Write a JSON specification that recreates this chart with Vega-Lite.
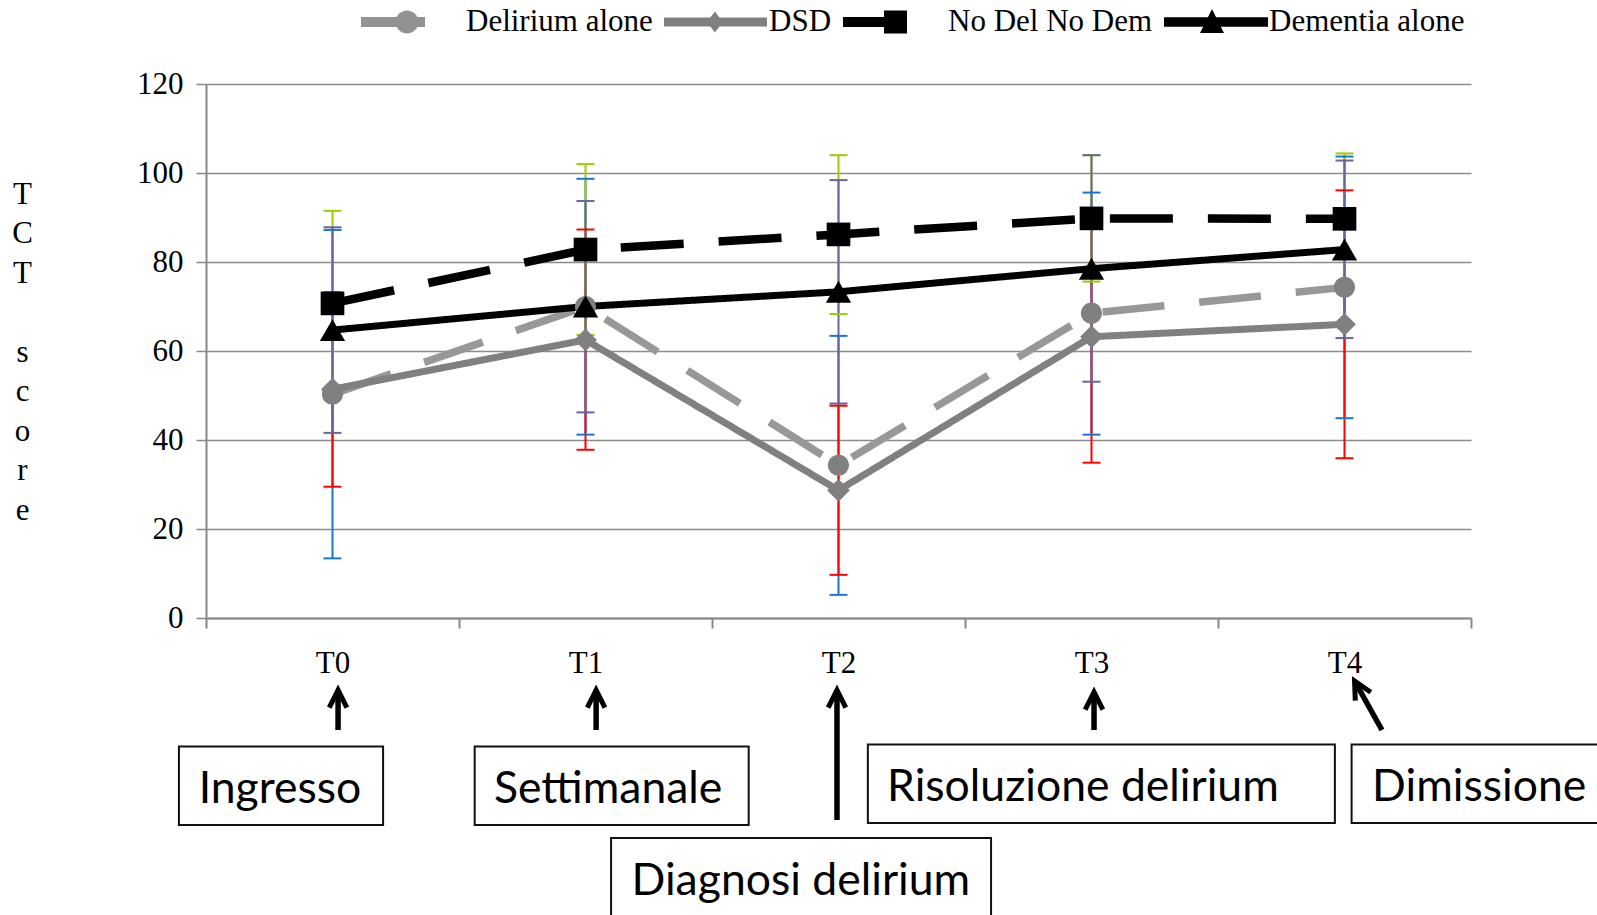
{
  "$schema": "https://vega.github.io/schema/vega-lite/v6.json",
  "width": 1265,
  "height": 534,
  "autosize": {"type": "none"},
  "padding": {"left": 206, "top": 84, "right": 126, "bottom": 297},
  "background": "white",
  "config": {"view": {"stroke": null}, "font": "Liberation Serif"},
  "datasets": {
    "tct": [
      {"series": "Delirium alone", "time": "T0", "t": 0, "mean": 50.3, "lo": 13.4, "hi": 87.2},
      {"series": "Delirium alone", "time": "T1", "t": 1, "mean": 70.0, "lo": 41.2, "hi": 98.7},
      {"series": "Delirium alone", "time": "T2", "t": 2, "mean": 34.3, "lo": 5.2, "hi": 63.4},
      {"series": "Delirium alone", "time": "T3", "t": 3, "mean": 68.5, "lo": 41.2, "hi": 95.6},
      {"series": "Delirium alone", "time": "T4", "t": 4, "mean": 74.3, "lo": 44.9, "hi": 103.7},
      {"series": "DSD", "time": "T0", "t": 0, "mean": 51.4, "lo": 29.5, "hi": 73.2},
      {"series": "DSD", "time": "T1", "t": 1, "mean": 62.5, "lo": 37.8, "hi": 87.3},
      {"series": "DSD", "time": "T2", "t": 2, "mean": 28.7, "lo": 9.7, "hi": 47.7},
      {"series": "DSD", "time": "T3", "t": 3, "mean": 63.2, "lo": 34.9, "hi": 91.5},
      {"series": "DSD", "time": "T4", "t": 4, "mean": 66.0, "lo": 35.9, "hi": 96.1},
      {"series": "No Del No Dem", "time": "T0", "t": 0, "mean": 70.7, "lo": 49.9, "hi": 91.5},
      {"series": "No Del No Dem", "time": "T1", "t": 1, "mean": 82.8, "lo": 63.6, "hi": 102.0},
      {"series": "No Del No Dem", "time": "T2", "t": 2, "mean": 86.2, "lo": 68.3, "hi": 104.0},
      {"series": "No Del No Dem", "time": "T3", "t": 3, "mean": 89.8, "lo": 75.6, "hi": 104.0},
      {"series": "No Del No Dem", "time": "T4", "t": 4, "mean": 89.7, "lo": 75.0, "hi": 104.4},
      {"series": "Dementia alone", "time": "T0", "t": 0, "mean": 64.7, "lo": 41.6, "hi": 87.8},
      {"series": "Dementia alone", "time": "T1", "t": 1, "mean": 70.0, "lo": 46.2, "hi": 93.7},
      {"series": "Dementia alone", "time": "T2", "t": 2, "mean": 73.3, "lo": 48.2, "hi": 98.4},
      {"series": "Dementia alone", "time": "T3", "t": 3, "mean": 78.5, "lo": 53.1, "hi": 104.0},
      {"series": "Dementia alone", "time": "T4", "t": 4, "mean": 82.8, "lo": 62.9, "hi": 102.8}
    ],
    "boxes": [
      {"label": "Ingresso", "x0": -0.607, "x1": 0.2, "y0": -28.88, "y1": -46.52, "tx": -0.529, "ty": -38.6},
      {"label": "Settimanale", "x0": 0.562, "x1": 1.645, "y0": -28.88, "y1": -46.52, "tx": 0.638, "ty": -38.6},
      {"label": "Diagnosi delirium", "x0": 1.101, "x1": 2.603, "y0": -49.44, "y1": -72.0, "tx": 1.182, "ty": -59.3},
      {"label": "Risoluzione delirium", "x0": 2.116, "x1": 3.962, "y0": -28.43, "y1": -46.07, "tx": 2.192, "ty": -38.1},
      {"label": "Dimissione", "x0": 4.028, "x1": 5.1, "y0": -28.43, "y1": -46.07, "tx": 4.109, "ty": -38.1}
    ],
    "arrows": [
      {"to": "T0", "x0": 0.022, "y0": -25.17, "x1": 0.022, "y1": -16.18},
      {"to": "T1", "x0": 1.042, "y0": -25.17, "x1": 1.042, "y1": -16.18},
      {"to": "T2", "x0": 1.994, "y0": -45.39, "x1": 1.994, "y1": -16.18},
      {"to": "T3", "x0": 3.01, "y0": -25.17, "x1": 3.01, "y1": -16.63},
      {"to": "T4", "x0": 4.148, "y0": -25.17, "x1": 4.04, "y1": -14.16}
    ],
    "heads": [
      {"to": "T0", "x": 0.022, "y": -18.16},
      {"to": "T1", "x": 1.042, "y": -18.16},
      {"to": "T2", "x": 1.994, "y": -18.16},
      {"to": "T3", "x": 3.01, "y": -18.61}
    ],
    "slantHead": [
      {"to": "T4", "x": 4.0565, "y": -15.89}
    ]
  },
  "layer": [
    {
      "data": {"name": "tct"},
      "mark": {"type": "rule", "strokeWidth": 2},
      "encoding": {
        "x": {
          "field": "t",
          "type": "quantitative",
          "scale": {"domain": [-0.5, 4.5], "nice": false, "zero": false},
          "axis": {
            "values": [-0.5, 0.5, 1.5, 2.5, 3.5, 4.5],
            "labelExpr": "datum.value < 4 ? 'T' + (datum.value + 0.5) : ''",
            "labelOffset": 126.5,
            "labelFlush": false,
            "labelOverlap": false,
            "labelBound": false,
            "labelFont": "Liberation Serif",
            "labelFontSize": 31,
            "labelColor": "black",
            "labelPadding": 20,
            "tickSize": 10,
            "tickColor": "#878787",
            "tickWidth": 2,
            "domainColor": "#878787",
            "domainWidth": 2,
            "grid": false,
            "title": null
          }
        },
        "y": {
          "field": "lo",
          "type": "quantitative",
          "scale": {"domain": [0, 120], "nice": false},
          "axis": {
            "values": [0, 20, 40, 60, 80, 100, 120],
            "grid": true,
            "gridColor": "#8c8c8c",
            "gridWidth": 1.5,
            "domainColor": "#878787",
            "domainWidth": 2,
            "tickColor": "#878787",
            "tickWidth": 1.5,
            "tickSize": 10,
            "labelFont": "Liberation Serif",
            "labelFontSize": 31,
            "labelColor": "black",
            "labelPadding": 13,
            "title": ["T", "C", "T", "\u200b", "s", "c", "o", "r", "e"],
            "titleFont": "Liberation Serif",
            "titleFontSize": 31,
            "titleFontWeight": "normal",
            "titleColor": "black",
            "titleAngle": 0,
            "titleAlign": "center",
            "titleBaseline": "middle",
            "titleLineHeight": 39.5,
            "titleX": -184,
            "titleY": 110
          }
        },
        "y2": {"field": "hi"},
        "color": {
          "field": "series",
          "type": "nominal",
          "scale": {
            "domain": ["Delirium alone", "DSD", "No Del No Dem", "Dementia alone"],
            "range": ["#1c74d4", "#ff0000", "#9acd00", "#66669a"]
          },
          "legend": null
        }
      }
    },
    {
      "data": {"name": "tct"},
      "mark": {"type": "tick", "orient": "horizontal", "size": 18, "thickness": 2, "opacity": 1},
      "encoding": {
        "x": {"field": "t", "type": "quantitative", "axis": null},
        "y": {"field": "lo", "type": "quantitative", "axis": null},
        "color": {
          "field": "series",
          "type": "nominal",
          "scale": {
            "domain": ["Delirium alone", "DSD", "No Del No Dem", "Dementia alone"],
            "range": ["#1c74d4", "#ff0000", "#9acd00", "#66669a"]
          },
          "legend": null
        }
      }
    },
    {
      "data": {"name": "tct"},
      "mark": {"type": "tick", "orient": "horizontal", "size": 18, "thickness": 2, "opacity": 1},
      "encoding": {
        "x": {"field": "t", "type": "quantitative", "axis": null},
        "y": {"field": "hi", "type": "quantitative", "axis": null},
        "color": {
          "field": "series",
          "type": "nominal",
          "scale": {
            "domain": ["Delirium alone", "DSD", "No Del No Dem", "Dementia alone"],
            "range": ["#1c74d4", "#ff0000", "#9acd00", "#66669a"]
          },
          "legend": null
        }
      }
    },
    {
      "data": {"name": "tct"},
      "mark": {"type": "line", "strokeCap": "butt", "strokeJoin": "miter"},
      "encoding": {
        "x": {"field": "t", "type": "quantitative", "axis": null},
        "y": {"field": "mean", "type": "quantitative", "axis": null},
        "stroke": {
          "field": "series",
          "type": "nominal",
          "scale": {
            "domain": ["Delirium alone", "DSD", "No Del No Dem", "Dementia alone"],
            "range": ["#989898", "#808080", "#000000", "#000000"]
          },
          "legend": null
        },
        "strokeDash": {
          "field": "series",
          "type": "nominal",
          "scale": {
            "domain": ["Delirium alone", "DSD", "No Del No Dem", "Dementia alone"],
            "range": [[62, 35], [1, 0], [63, 35], [1, 0]]
          },
          "legend": null
        },
        "strokeWidth": {
          "field": "series",
          "type": "nominal",
          "scale": {
            "type": "ordinal",
            "domain": ["Delirium alone", "DSD", "No Del No Dem", "Dementia alone"],
            "range": [7.5, 7, 8.5, 7]
          },
          "legend": null
        }
      }
    },
    {
      "data": {"name": "tct"},
      "mark": {"type": "point", "filled": true, "opacity": 1, "strokeWidth": 0},
      "encoding": {
        "x": {"field": "t", "type": "quantitative", "axis": null},
        "y": {"field": "mean", "type": "quantitative", "axis": null},
        "shape": {
          "field": "series",
          "type": "nominal",
          "scale": {
            "domain": ["Delirium alone", "DSD", "No Del No Dem", "Dementia alone"],
            "range": ["circle", "diamond", "square", "triangle-up"]
          },
          "legend": null
        },
        "fill": {
          "field": "series",
          "type": "nominal",
          "scale": {
            "domain": ["Delirium alone", "DSD", "No Del No Dem", "Dementia alone"],
            "range": ["#808080", "#808080", "#000000", "#000000"]
          },
          "legend": null
        },
        "size": {
          "field": "series",
          "type": "nominal",
          "scale": {
            "type": "ordinal",
            "domain": ["Delirium alone", "DSD", "No Del No Dem", "Dementia alone"],
            "range": [450, 520, 560, 640]
          },
          "legend": null
        }
      }
    },
    {
      "data": {"name": "tct"},
      "mark": {"type": "point", "filled": true, "opacity": 0},
      "encoding": {
        "x": {"field": "t", "type": "quantitative", "axis": null},
        "y": {"field": "mean", "type": "quantitative", "axis": null},
        "color": {
          "field": "series",
          "type": "nominal",
          "scale": {
            "domain": ["Delirium alone", "DSD", "No Del No Dem", "Dementia alone"],
            "range": ["#929292", "#808080", "#000000", "#000000"]
          },
          "legend": {
            "title": null,
            "orient": "none",
            "legendX": 155,
            "legendY": -114,
            "direction": "horizontal",
            "padding": 0,
            "symbolSize": 10816,
            "symbolStrokeWidth": 0,
            "symbolOffset": 0,
            "symbolOpacity": 1,
            "labelFont": "Liberation Serif",
            "labelFontSize": 31,
            "labelColor": "black",
            "labelOffset": 1,
            "labelLimit": 0,
            "columnPadding": 11
          }
        },
        "shape": {
          "field": "series",
          "type": "nominal",
          "scale": {
            "domain": ["Delirium alone", "DSD", "No Del No Dem", "Dementia alone"],
            "range": [
              "M-1,-0.096H0.231V0.096H-1Z M-0.335,0A0.22,0.22 0 1,1 0.105,0A0.22,0.22 0 1,1 -0.335,0Z",
              "M-1,-0.087H0.98V0.087H-1Z M-0.021,-0.2L0.133,0L-0.021,0.2L-0.175,0Z",
              "M-1,-0.096H0.1V0.096H-1Z M-0.211,-0.221H0.231V0.221H-0.211Z",
              "M-1,-0.09H1V0.09H-1Z M-0.077,-0.25L0.153,0.21L-0.307,0.21Z"
            ]
          },
          "legend": {
            "title": null,
            "orient": "none",
            "legendX": 155,
            "legendY": -114,
            "direction": "horizontal",
            "padding": 0,
            "symbolSize": 10816,
            "symbolStrokeWidth": 0,
            "symbolOffset": 0,
            "symbolOpacity": 1,
            "labelFont": "Liberation Serif",
            "labelFontSize": 31,
            "labelColor": "black",
            "labelOffset": 1,
            "labelLimit": 0,
            "columnPadding": 11
          }
        }
      }
    },
    {
      "data": {"name": "boxes"},
      "mark": {"type": "rect", "fill": "white", "stroke": "#111111", "strokeWidth": 2},
      "encoding": {
        "x": {"field": "x0", "type": "quantitative", "axis": null},
        "x2": {"field": "x1"},
        "y": {"field": "y0", "type": "quantitative", "axis": null},
        "y2": {"field": "y1"}
      }
    },
    {
      "data": {"name": "boxes"},
      "mark": {"type": "text", "align": "left", "baseline": "middle", "font": "Lato", "fontSize": 44.5, "color": "black"},
      "encoding": {
        "x": {"field": "tx", "type": "quantitative", "axis": null},
        "y": {"field": "ty", "type": "quantitative", "axis": null},
        "text": {"field": "label"}
      }
    },
    {
      "data": {"name": "arrows"},
      "mark": {"type": "rule", "color": "black", "strokeWidth": 5.5, "strokeCap": "butt"},
      "encoding": {
        "x": {"field": "x0", "type": "quantitative", "axis": null},
        "x2": {"field": "x1"},
        "y": {"field": "y0", "type": "quantitative", "axis": null},
        "y2": {"field": "y1"}
      }
    },
    {
      "data": {"name": "heads"},
      "mark": {"type": "point", "shape": "M-0.8,0.8L0,-0.8L0.8,0.8", "filled": false, "color": "black", "strokeWidth": 5, "strokeJoin": "miter", "size": 484, "opacity": 1},
      "encoding": {
        "x": {"field": "x", "type": "quantitative", "axis": null},
        "y": {"field": "y", "type": "quantitative", "axis": null}
      }
    },
    {
      "data": {"name": "slantHead"},
      "mark": {"type": "point", "shape": "M-0.8,0.8L0,-0.8L0.8,0.8", "angle": 331.3, "filled": false, "color": "black", "strokeWidth": 5, "strokeJoin": "miter", "size": 484, "opacity": 1},
      "encoding": {
        "x": {"field": "x", "type": "quantitative", "axis": null},
        "y": {"field": "y", "type": "quantitative", "axis": null}
      }
    }
  ],
  "resolve": {
    "scale": {"shape": "independent", "color": "independent"},
    "axis": {"x": "independent", "y": "independent"}
  }
}
